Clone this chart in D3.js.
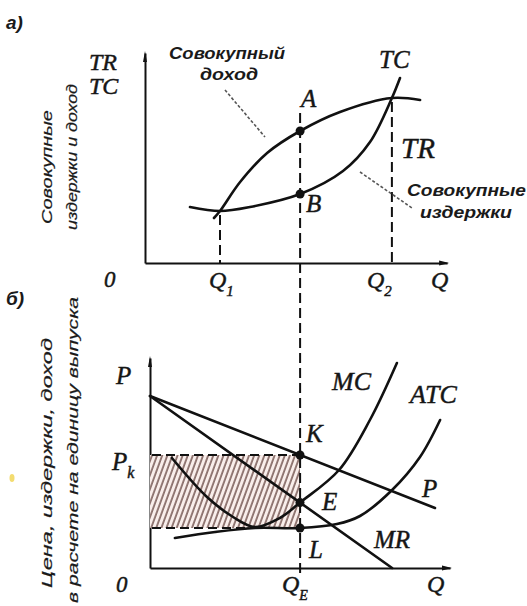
<!DOCTYPE html>
<html><head><meta charset="utf-8">
<script src="https://cdn.jsdelivr.net/npm/d3@7"></script>
<style>
html,body{margin:0;padding:0;background:#fff;}
svg{display:block;}
.serif{font-family:"Liberation Serif","Times New Roman",serif;font-style:italic;fill:#161616;stroke:#161616;stroke-width:0.45px;}
.sans{font-family:"Liberation Sans",Arial,sans-serif;font-style:italic;font-weight:bold;fill:#1a1a1a;}
.rot{font-family:"Liberation Sans",Arial,sans-serif;font-style:italic;fill:#1a1a1a;stroke:#1a1a1a;stroke-width:0.2px;}
</style></head>
<body>
<svg id="c" width="527" height="606"></svg>
<script>
// ---------- Panel a: total revenue / total cost ----------
const tcQ = [15, 25, 35, 51.7, 66, 75, 82.3, 85];
const tcV = [28, 26, 28, 34.5, 46, 60.5, 82.5, 92.5];
const trQ = [23, 25, 31.7, 40.7, 51.7, 65, 82.3, 91.7];
const trV = [22.5, 26, 40.5, 55, 66, 75.5, 82.5, 81.5];
const topMarks = ["Q1", "QA", "Q2"];
const topMarkQ = [25, 51.7, 82.3];
const topMarkV = [26, 66, 82.5];
const pointA = [51.7, 66];
const pointB = [51.7, 34.5];

// ---------- Panel b: per-unit values ----------
const demandQ = [0, 95];
const demandV = [86, 30];
const mrQ = [0, 80.7];
const mrV = [86, 0];
const mcQ = [7.3, 19, 27.7, 35, 43.3, 50, 63, 73.3, 82.3];
const mcV = [55, 35.5, 25.5, 20.5, 25, 32.7, 49, 74, 102.5];
const atcQ = [8.3, 21.7, 35, 50, 62.3, 70, 80.7, 90, 96.7];
const atcV = [15, 18, 20, 20, 22, 26, 39, 55.5, 74];
const qE = 50;
const priceK = 56.5;   // K, Pk
const valueE = 32.7;   // E
const valueL = 20;     // L

const svg = d3.select("#c");
const defs = svg.append("defs");

// scales
const xTop = d3.scaleLinear([0, 100], [145, 445]);
const yTop = d3.scaleLinear([0, 100], [263, 63]);
const xBot = d3.scaleLinear([0, 100], [150, 450]);
const yBot = d3.scaleLinear([0, 100], [568, 368]);

// hatch pattern
const pat = defs.append("pattern").attr("id", "hatch").attr("patternUnits", "userSpaceOnUse")
  .attr("width", 4.8).attr("height", 10).attr("patternTransform", "rotate(20)");
pat.append("rect").attr("width", 4.8).attr("height", 10).attr("fill", "#f9eeeb");
pat.append("line").attr("x1", 1).attr("x2", 1).attr("y1", 0).attr("y2", 10)
  .attr("stroke", "#5e3c37").attr("stroke-width", 1.3);

const ink = "#111";

function axes(xs, ys, xEnd, yEnd) {
  const xa = xs.copy().domain([0, xEnd]).range([xs(0), xs(xEnd)]);
  const ya = ys.copy().domain([0, yEnd]).range([ys(0), ys(yEnd)]);
  const gx = svg.append("g").attr("transform", `translate(0,${ys(0)})`)
    .call(d3.axisBottom(xa).tickValues([]).tickSizeOuter(0));
  gx.select(".domain").attr("stroke", ink).attr("stroke-width", 2);
  const gy = svg.append("g").attr("transform", `translate(${xs(0)},0)`)
    .call(d3.axisLeft(ya).tickValues([]).tickSizeOuter(0));
  gy.select(".domain").attr("stroke", ink).attr("stroke-width", 2);
  // arrow heads
  const ax = xa(xEnd), ay = ys(0);
  svg.append("path").attr("d", `M${ax+2},${ay} L${ax-8},${ay-2.5} L${ax-8},${ay+2.5}Z`).attr("fill", ink);
  const bx = xs(0), by = ya(yEnd);
  svg.append("path").attr("d", `M${bx},${by-2} L${bx-2},${by+9} L${bx+2},${by+9}Z`).attr("fill", ink);
}
axes(xTop, yTop, 100.7, 105);
axes(xBot, yBot, 100, 105);

const lineTop = d3.line().x(d => xTop(d[0])).y(d => yTop(d[1])).curve(d3.curveCatmullRom.alpha(0.5));
const lineBot = d3.line().x(d => xBot(d[0])).y(d => yBot(d[1])).curve(d3.curveCatmullRom.alpha(0.5));
const zip = (a, b) => a.map((v, i) => [v, b[i]]);

// ---------- hatched profit rectangle ----------
svg.append("rect")
  .attr("x", xBot(0)).attr("y", yBot(priceK))
  .attr("width", xBot(qE) - xBot(0)).attr("height", yBot(valueL) - yBot(priceK))
  .attr("fill", "url(#hatch)");
[priceK, valueL].forEach(v => {
  svg.append("line").attr("x1", xBot(0) + 2).attr("x2", xBot(qE)).attr("y1", yBot(v)).attr("y2", yBot(v))
    .attr("stroke", ink).attr("stroke-width", 2).attr("stroke-dasharray", "9,5");
});

// ---------- dashed verticals ----------
function dashed(x, y1, y2) {
  svg.append("line").attr("x1", x).attr("x2", x).attr("y1", y1).attr("y2", y2)
    .attr("stroke", ink).attr("stroke-width", 2).attr("stroke-dasharray", "10,5");
}
dashed(xTop(topMarkQ[0]), yTop(topMarkV[0]) + 4, yTop(0));
dashed(xTop(topMarkQ[2]), yTop(topMarkV[2]) + 4, yTop(0));
dashed(xTop(topMarkQ[1]), yTop(75), yBot(0) + 6);

// ---------- curves ----------
const curveStyle = s => s.attr("fill", "none").attr("stroke", ink).attr("stroke-width", 2.6).attr("stroke-linecap", "round");
curveStyle(svg.append("path").attr("d", lineTop(zip(tcQ, tcV))));
curveStyle(svg.append("path").attr("d", lineTop(zip(trQ, trV))));
curveStyle(svg.append("path").attr("d", d3.line().x(d => xBot(d[0])).y(d => yBot(d[1]))(zip(demandQ, demandV))));
curveStyle(svg.append("path").attr("d", d3.line().x(d => xBot(d[0])).y(d => yBot(d[1]))(zip(mrQ, mrV))));
curveStyle(svg.append("path").attr("d", lineBot(zip(mcQ, mcV))));
curveStyle(svg.append("path").attr("d", lineBot(zip(atcQ, atcV))));

// points
[[xTop(pointA[0]), yTop(pointA[1])], [xTop(pointB[0]), yTop(pointB[1])],
 [xBot(qE), yBot(priceK)], [xBot(qE), yBot(valueE)], [xBot(qE), yBot(valueL)]].forEach(p => {
  svg.append("circle").attr("cx", p[0]).attr("cy", p[1]).attr("r", 4.5).attr("fill", ink);
});

// leader lines
[[225, 90, 265, 137], [360, 172, 412, 208]].forEach(l => {
  svg.append("line").attr("x1", l[0]).attr("y1", l[1]).attr("x2", l[2]).attr("y2", l[3])
    .attr("stroke", "#555").attr("stroke-width", 1.6).attr("stroke-dasharray", "3,2");
});

// ---------- text ----------
function serif(x, y, t, size, sub, subSize) {
  const tx = svg.append("text").attr("class", "serif").attr("x", x).attr("y", y).attr("font-size", size).text(t);
  if (sub) tx.append("tspan").attr("dy", 8).attr("font-size", subSize || size * 0.6).text(sub);
  return tx;
}
function sans(x, y, t, size, anchor) {
  return svg.append("text").attr("class", "sans").attr("x", x).attr("y", y).attr("font-size", size)
    .attr("text-anchor", anchor || "start").text(t);
}
// panel labels
sans(6, 29, "а)", 19);
sans(6, 305, "б)", 19);

// panel a
serif(89, 70, "TR", 24);
serif(89, 94, "TC", 24);
serif(379, 68, "TC", 25);
serif(301, 107, "A", 25);
serif(306, 212, "B", 25);
serif(401, 158, "TR", 29);
serif(104, 287, "0", 23);
serif(209, 288, "Q", 24, "1", 15);
serif(367, 288, "Q", 24, "2", 15);
serif(431, 288, "Q", 24);
sans(227, 59, "Совокупный", 16, "middle").attr("textLength", 116).attr("lengthAdjust", "spacingAndGlyphs");
sans(229, 80, "доход", 16, "middle").attr("textLength", 58).attr("lengthAdjust", "spacingAndGlyphs");
sans(407, 196, "Совокупные", 16).attr("textLength", 119).attr("lengthAdjust", "spacingAndGlyphs");
sans(420, 218, "издержки", 16).attr("textLength", 92).attr("lengthAdjust", "spacingAndGlyphs");

// panel b
serif(116, 384, "P", 25);
serif(112, 470, "P", 25, "k", 16);
serif(116, 592, "0", 23);
serif(282, 592, "Q", 24, "E", 14);
serif(427, 592, "Q", 24);
serif(332, 390, "MC", 26);
serif(410, 403, "ATC", 26);
serif(306, 442, "K", 25);
serif(322, 510, "E", 25);
serif(422, 497, "P", 25);
serif(374, 548, "MR", 25);
serif(309, 558, "L", 25);

// rotated axis titles
function rot(cx, cy, t, len) {
  svg.append("text").attr("class", "rot").attr("font-size", 15)
    .attr("transform", `translate(${cx},${cy}) rotate(-90)`)
    .attr("text-anchor", "middle").attr("dy", "0.35em")
    .attr("textLength", len).attr("lengthAdjust", "spacingAndGlyphs").text(t);
}
rot(47, 167, "Совокупные", 114);
rot(72, 157, "издержки и доход", 146);
rot(47, 463, "Цена, издержки, доход", 250);
rot(73, 450, "в расчете на единицу выпуска", 306);

// scan speck
svg.append("ellipse").attr("cx", 12).attr("cy", 478).attr("rx", 2.5).attr("ry", 4).attr("fill", "#f0d34c").attr("opacity", 0.8);
</script>
</body></html>
